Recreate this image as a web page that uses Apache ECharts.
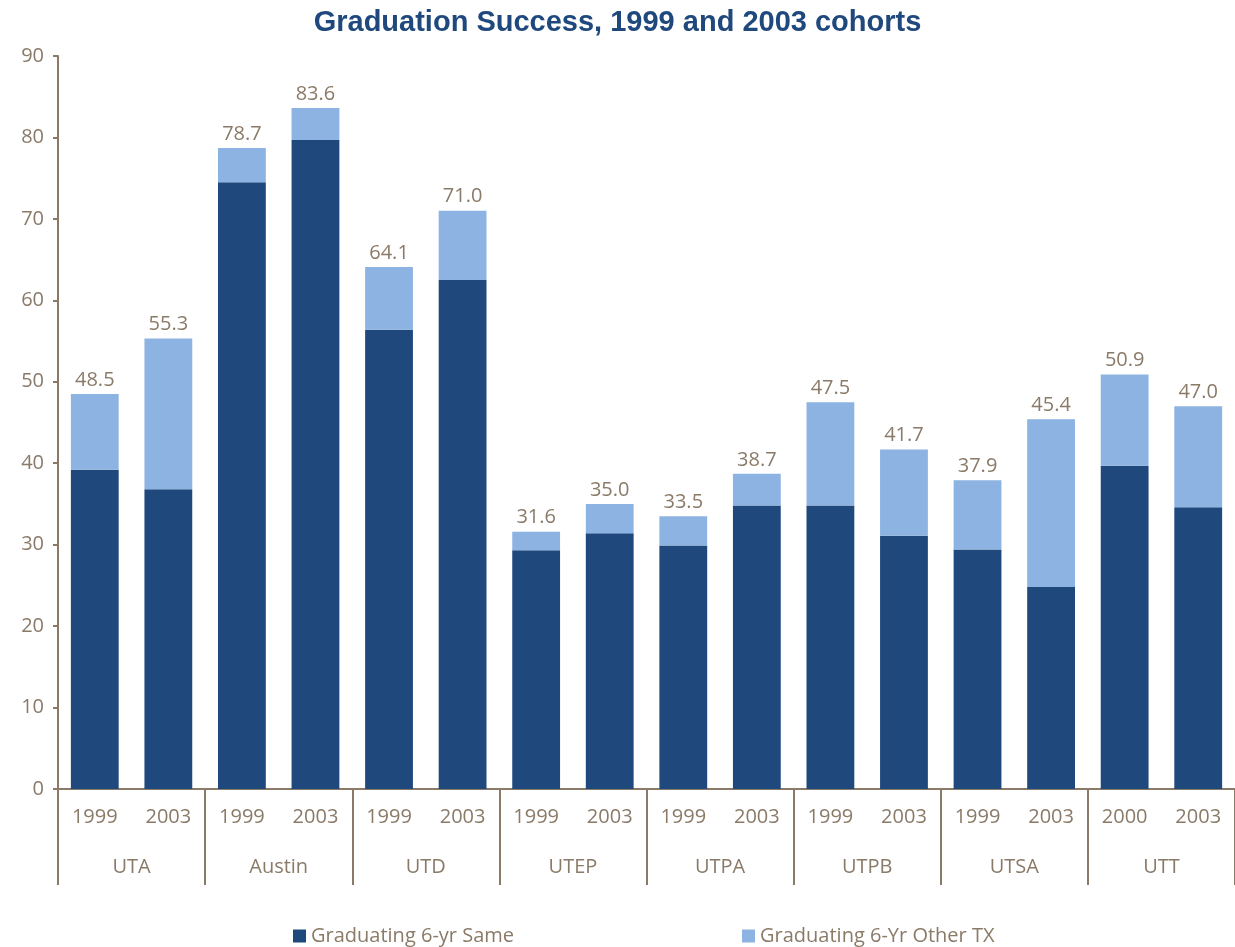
<!DOCTYPE html>
<html>
<head>
<meta charset="utf-8">
<script src="https://cdn.jsdelivr.net/npm/echarts@6/dist/echarts.min.js"></script>
<style>
html, body { margin: 0; padding: 0; background: #fff; }
#main { width: 1235px; height: 947px; }
</style>
</head>
<body>
<div id="main"></div>
<script>
// 年份（小类）和学校（大类）
var years = ['1999', '2003', '1999', '2003', '1999', '2003', '1999', '2003', '1999', '2003', '1999', '2003', '1999', '2003', '2000', '2003'];
var schools = ['UTA', 'Austin', 'UTD', 'UTEP', 'UTPA', 'UTPB', 'UTSA', 'UTT'];
var seriesNames = ['Graduating 6-yr Same', 'Graduating 6-Yr Other TX'];
// 同校六年毕业率
var sameData = [39.2, 36.8, 74.5, 79.7, 56.4, 62.5, 29.3, 31.4, 29.9, 34.8, 34.8, 31.1, 29.4, 24.8, 39.7, 34.6];
// 合计（柱顶标签）
var totalData = [48.5, 55.3, 78.7, 83.6, 64.1, 71.0, 31.6, 35.0, 33.5, 38.7, 47.5, 41.7, 37.9, 45.4, 50.9, 47.0];

var otherData = [];
for (var i = 0; i < totalData.length; i++) {
	otherData.push(Math.round((totalData[i] - sameData[i]) * 10) / 10);
}

var textColor = '#8a7a68';
var axisColor = '#8a7a68';
var font = 'Open Sans';

var myChart = echarts.init(document.getElementById('main'));
var option = {
	title: {
		text: 'Graduation Success, 1999 and 2003 cohorts',
		left: 'center',
		top: 3,
		textStyle: {
			color: '#1f497d',
			fontSize: 29,
			fontWeight: 'bold',
			fontFamily: 'Liberation Sans'
		}
	},
	legend: {
		data: seriesNames,
		left: 288,
		top: 921,
		itemWidth: 13,
		itemHeight: 13,
		itemGap: 228,
		icon: 'rect',
		textStyle: { color: textColor, fontSize: 20, fontFamily: font }
	},
	grid: {
		left: 58,
		top: 56,
		right: 0,
		height: 733
	},
	xAxis: [{
		type: 'category',
		data: years,
		position: 'bottom',
		axisLine: { lineStyle: { color: axisColor, width: 2 } },
		axisTick: { show: false },
		axisLabel: { color: textColor, fontSize: 20, fontFamily: font, margin: 18 }
	}, {
		type: 'category',
		data: schools,
		position: 'bottom',
		axisLine: { show: false },
		axisTick: { show: true, length: 96, lineStyle: { color: axisColor, width: 2 } },
		axisLabel: { color: textColor, fontSize: 20, fontFamily: font, margin: 68 }
	}],
	yAxis: {
		type: 'value',
		min: 0,
		max: 90,
		interval: 10,
		splitLine: { show: false },
		axisLine: { show: true, lineStyle: { color: axisColor, width: 2 } },
		axisTick: { show: true, length: 5, lineStyle: { color: axisColor, width: 2 } },
		axisLabel: { color: textColor, fontSize: 20, fontFamily: font, margin: 14 }
	},
	series: [{
		name: seriesNames[0],
		type: 'bar',
		stack: 'total',
		data: sameData,
		barCategoryGap: '35%',
		itemStyle: { color: '#1f497d' }
	}, {
		name: seriesNames[1],
		type: 'bar',
		stack: 'total',
		data: otherData,
		barCategoryGap: '35%',
		itemStyle: { color: '#8db3e2' },
		label: {
			show: true,
			position: 'top',
			distance: 4,
			color: textColor,
			fontSize: 20,
			fontFamily: font,
			formatter: function (p) {
				return totalData[p.dataIndex].toFixed(1);
			}
		}
	}]
};
myChart.setOption(option, true);
</script>
</body>
</html>
